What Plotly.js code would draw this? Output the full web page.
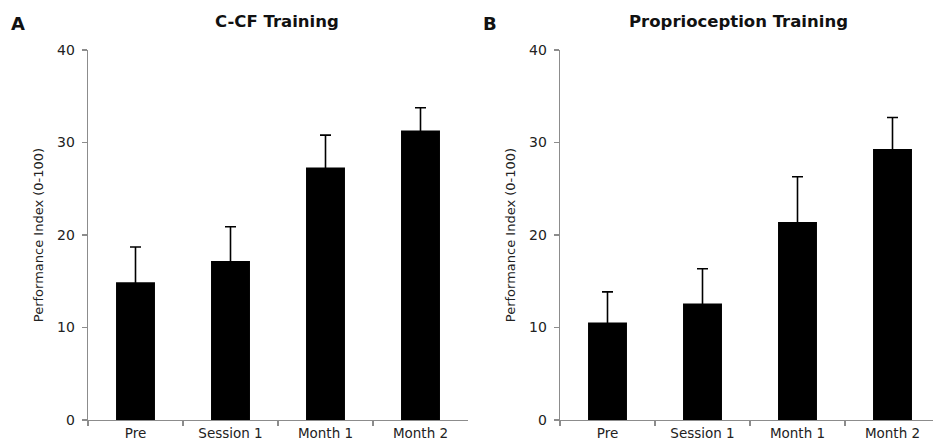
<!DOCTYPE html>
<html>
<head>
<meta charset="utf-8">
<script src="https://cdn.plot.ly/plotly-3.0.1.min.js"></script>
<style>html,body{margin:0;padding:0;background:#fff;}#chart{width:933px;height:448px;}</style>
</head>
<body>
<div id="chart"></div>
<script>
const categories = ["Pre", "Session 1", "Month 1", "Month 2"];
const ccfValues = [14.9, 17.2, 27.3, 31.3];
const ccfErrors = [3.8, 3.7, 3.5, 2.45];
const propValues = [10.55, 12.6, 21.4, 29.3];
const propErrors = [3.3, 3.75, 4.9, 3.4];
const yTicks = [0, 10, 20, 30, 40];
const panelTitles = ["C-CF Training", "Proprioception Training"];
const panelLetters = ["A", "B"];
const yTitle = "Performance Index (0-100)";

const FONT = "DejaVu Sans, sans-serif";
const AXIS_COLOR = "#8c8c8c";

function barTrace(vals, errs, xa, ya) {
  return {
    type: "bar", x: categories, y: vals, xaxis: xa, yaxis: ya,
    width: 0.41,
    marker: {color: "#000000", line: {width: 0}},
    // symmetric SD bars; the lower half is hidden inside the black bar
    error_y: {type: "data", symmetric: true, array: errs,
              color: "#000000", thickness: 1.6, width: 5.5},
    showlegend: false, hoverinfo: "skip"
  };
}

const data = [
  barTrace(ccfValues, ccfErrors, "x", "y"),
  barTrace(propValues, propErrors, "x2", "y2")
];

function xAxis(domain, range, anchor) {
  return {
    domain: domain, range: range, anchor: anchor, type: "category",
    showline: true, linecolor: AXIS_COLOR, linewidth: 1.3,
    ticks: "outside", ticklen: 5, tickcolor: AXIS_COLOR, tickwidth: 1.3,
    tickson: "boundaries", showgrid: false, zeroline: false,
    tickfont: {family: FONT, size: 13.5, color: "#222"}, fixedrange: true
  };
}
function yAxis(anchor) {
  return {
    domain: [0, 1], range: [0, 40], anchor: anchor, tickvals: yTicks,
    showline: true, linecolor: AXIS_COLOR, linewidth: 1.3,
    ticks: "outside", ticklen: 5, tickcolor: AXIS_COLOR, tickwidth: 1.3,
    showgrid: false, zeroline: false, ticklabelstandoff: 4,
    tickfont: {family: FONT, size: 14, color: "#222"},
    title: {text: yTitle, font: {family: FONT, size: 13, color: "#222"}, standoff: 10},
    fixedrange: true
  };
}

const W = 933;
const layout = {
  width: 933, height: 448,
  margin: {l: 0, r: 0, t: 50, b: 28},
  paper_bgcolor: "#fff", plot_bgcolor: "#fff",
  xaxis: xAxis([88 / W, 468 / W], [-0.5, 3.5], "y"),
  yaxis: yAxis("x"),
  xaxis2: xAxis([560 / W, 1], [-0.5, -0.5 + 373 / 95], "y2"),
  yaxis2: yAxis("x2"),
  annotations: [
    {text: "<b>" + panelTitles[0] + "</b>", xref: "paper", yref: "paper", x: 277 / W, y: 1, yshift: 29,
     showarrow: false, xanchor: "center", yanchor: "middle", font: {family: FONT, size: 16.5, color: "#111"}},
    {text: "<b>" + panelTitles[1] + "</b>", xref: "paper", yref: "paper", x: 738 / W, y: 1, yshift: 29,
     showarrow: false, xanchor: "center", yanchor: "middle", font: {family: FONT, size: 16.5, color: "#111"}},
    {text: "<b>" + panelLetters[0] + "</b>", xref: "paper", yref: "paper", x: 9 / W, y: 1, yshift: 27,
     showarrow: false, xanchor: "left", yanchor: "middle", font: {family: FONT, size: 18, color: "#111"}},
    {text: "<b>" + panelLetters[1] + "</b>", xref: "paper", yref: "paper", x: 481 / W, y: 1, yshift: 27,
     showarrow: false, xanchor: "left", yanchor: "middle", font: {family: FONT, size: 18, color: "#111"}}
  ]
};

Plotly.newPlot("chart", data, layout, {staticPlot: true, displayModeBar: false});
</script>
</body>
</html>
